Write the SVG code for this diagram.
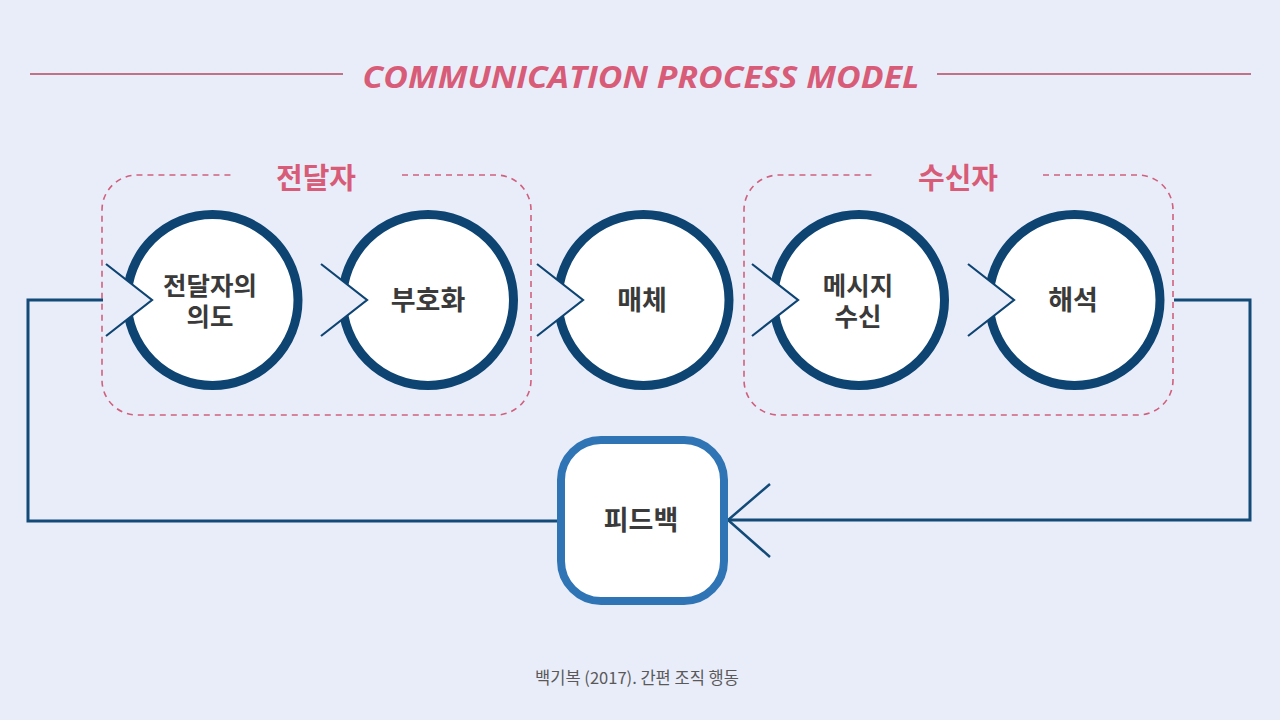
<svg xmlns="http://www.w3.org/2000/svg" width="1280" height="720" viewBox="0 0 1280 720">
<defs>
<style>
.bg{fill:#E9EDF9}
.rule{stroke:#B5495F;stroke-width:1.5}
.title{font-family:"Open Sans","Noto Sans",sans-serif;font-weight:bold;font-style:italic;font-size:31px;fill:#D85C78;text-anchor:middle}
.grp{fill:none;stroke:#D0607E;stroke-width:1.6;stroke-dasharray:6 5}
.glabel{font-family:"Noto Sans CJK KR",sans-serif;font-weight:bold;font-size:29px;fill:#D85C78;text-anchor:middle}
.circ{fill:#FFFFFF;stroke:#0D4472;stroke-width:9}
.notch{fill:#E9EDF9;stroke:none}
.chev{fill:none;stroke:#0D4472;stroke-width:2.2}
.lbl{font-family:"Noto Sans CJK KR",sans-serif;font-weight:bold;font-size:27px;fill:#3A3A3A;text-anchor:middle}
.lbl2{font-family:"Noto Sans CJK KR",sans-serif;font-weight:bold;font-size:25.5px;fill:#3A3A3A;text-anchor:middle}
.fb{fill:#FFFFFF;stroke:#2F74B5;stroke-width:8}
.conn{fill:none;stroke:#124A78;stroke-width:3}
.arr{fill:none;stroke:#124A78;stroke-width:2.5}
.foot{font-family:"Noto Sans CJK KR",sans-serif;font-size:16.5px;fill:#595959;text-anchor:middle}
</style>
</defs>
<rect class="bg" x="0" y="0" width="1280" height="720"/>
<g id="title">
<line class="rule" x1="30" y1="74" x2="343" y2="74"/>
<line class="rule" x1="937" y1="74" x2="1251" y2="74"/>
<text class="title" x="641" y="88" textLength="557" lengthAdjust="spacingAndGlyphs">COMMUNICATION PROCESS MODEL</text>
</g>
<g id="group-sender">
<path class="grp" d="M402,175 H496 A35,35 0 0 1 531,210 V380 A35,35 0 0 1 496,415 H137 A35,35 0 0 1 102,380 V210 A35,35 0 0 1 137,175 H233"/>
<text class="glabel" x="316" y="189">전달자</text>
</g>
<g id="group-receiver">
<path class="grp" d="M1043,175 H1138 A35,35 0 0 1 1173,210 V380 A35,35 0 0 1 1138,415 H779 A35,35 0 0 1 744,380 V210 A35,35 0 0 1 779,175 H875"/>
<text class="glabel" x="958" y="189">수신자</text>
</g>
<g id="connectors">
<polyline class="conn" points="103,300 28,300 28,521 558,521"/>
<polyline class="conn" points="1174,300 1250,300 1250,520 728,520"/>
<polyline class="arr" points="770,484 728,520 770,557"/>
</g>
<g id="node-intent">
<circle class="circ" cx="212.5" cy="300" r="85.5"/>
<polygon class="notch" points="106,264 152,300 106,336"/>
<polyline class="chev" points="106,264 152,300 106,336"/>
<text class="lbl2" x="210" y="295">전달자의</text>
<text class="lbl2" x="210" y="326">의도</text>
</g>
<g id="node-encoding">
<circle class="circ" cx="428" cy="300" r="85.5"/>
<polygon class="notch" points="321,264 367,300 321,336"/>
<polyline class="chev" points="321,264 367,300 321,336"/>
<text class="lbl" x="428" y="310">부호화</text>
</g>
<g id="node-medium">
<circle class="circ" cx="643.5" cy="300" r="85.5"/>
<polygon class="notch" points="537,264 583,300 537,336"/>
<polyline class="chev" points="537,264 583,300 537,336"/>
<text class="lbl" x="642" y="310">매체</text>
</g>
<g id="node-receive">
<circle class="circ" cx="859" cy="300" r="85.5"/>
<polygon class="notch" points="752,264 798,300 752,336"/>
<polyline class="chev" points="752,264 798,300 752,336"/>
<text class="lbl2" x="858" y="295">메시지</text>
<text class="lbl2" x="858" y="326">수신</text>
</g>
<g id="node-interpret">
<circle class="circ" cx="1074.5" cy="300" r="85.5"/>
<polygon class="notch" points="968,264 1014,300 968,336"/>
<polyline class="chev" points="968,264 1014,300 968,336"/>
<text class="lbl" x="1073" y="310">해석</text>
</g>
<g id="node-feedback">
<rect class="fb" x="561" y="440" width="163" height="161" rx="40"/>
<text class="lbl" x="641" y="530">피드백</text>
</g>
<g id="source">
<text class="foot" x="637" y="684">백기복 (2017). 간편 조직 행동</text>
</g>
</svg>
